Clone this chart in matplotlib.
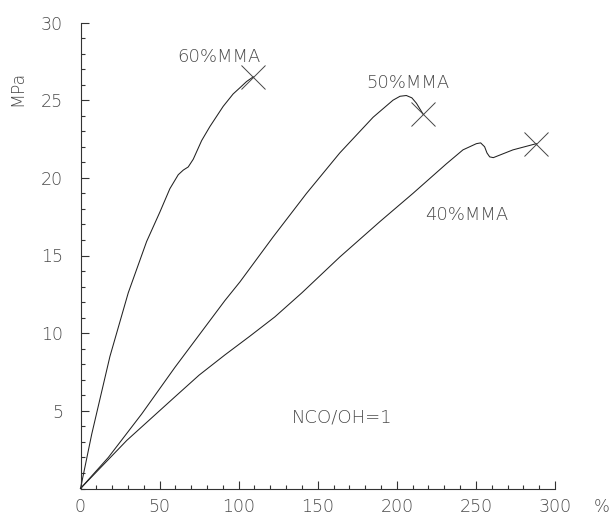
import matplotlib
matplotlib.use("Agg")
import matplotlib.pyplot as plt
from matplotlib.ticker import MultipleLocator

# strain (%) / stress (MPa)
mma60_x = [0, 7.1, 18.6, 30.2, 41.8, 50.2, 56.5, 61.8, 65, 68.1, 71.3, 76.6, 81.8, 90.2, 96.5, 100.8, 105, 109.2]
mma60_y = [0, 3.5, 8.5, 12.6, 15.9, 17.8, 19.3, 20.2, 20.5, 20.7, 21.2, 22.4, 23.3, 24.6, 25.4, 25.8, 26.2, 26.5]

mma50_x = [0, 17.6, 38.7, 59.7, 91.3, 100.8, 121.8, 142.9, 163.9, 185, 197.6, 202, 206, 209.5, 212.4, 216.6]
mma50_y = [0, 2.0, 4.8, 7.8, 12.1, 13.3, 16.2, 19.0, 21.6, 23.9, 25.0, 25.25, 25.3, 25.15, 24.8, 24.1]

mma40_x = [0, 29.3, 59.7, 75, 91.3, 107, 122.9, 140, 163.9, 189.5, 210.2, 231.3, 241.8, 250.3, 253,
           255.5, 257, 258.7, 261, 273.4, 288.2]
mma40_y = [0, 3.1, 5.9, 7.3, 8.6, 9.8, 11.05, 12.6, 14.9, 17.2, 19.0, 20.9, 21.8, 22.2, 22.25,
           22.0, 21.6, 21.35, 21.3, 21.8, 22.2]

series = [
    ("60%MMA", mma60_x, mma60_y, (87.8, 27.75)),
    ("50%MMA", mma50_x, mma50_y, (206.9, 26.1)),
    ("40%MMA", mma40_x, mma40_y, (244.0, 17.6)),
]

TXT = "#4a4a4a"
LINE = "#222222"

fig = plt.figure(figsize=(6.13, 5.18), dpi=100)
ax = fig.add_axes([80.5 / 613, 29.5 / 518, 474.5 / 613, 466 / 518])

for label, xs, ys, (lx, ly) in series:
    ax.plot(xs, ys, color=LINE, lw=0.75, clip_on=False)
    # break point marked with a cross
    ax.plot(xs[-1], ys[-1], marker="x", ms=17, mew=0.7, color="#444444", clip_on=False)
    ax.text(lx, ly, label, ha="center", va="center", fontsize=13, color=TXT,
            fontweight="light")

ax.text(197.5, 4.6, "NCO/OH=1", ha="right", va="center", fontsize=13, color=TXT,
        fontweight="light")

ax.set_xlim(0, 300)
ax.set_ylim(0, 30)
ax.spines["top"].set_visible(False)
ax.spines["right"].set_visible(False)
for s in ("left", "bottom"):
    ax.spines[s].set_linewidth(0.8)
    ax.spines[s].set_color("#333333")

ax.xaxis.set_major_locator(MultipleLocator(50))
ax.xaxis.set_minor_locator(MultipleLocator(10))
ax.yaxis.set_major_locator(MultipleLocator(5))
ax.yaxis.set_minor_locator(MultipleLocator(1))

ax.tick_params(axis="both", which="both", direction="in", color="#333333", width=0.8,
               labelcolor=TXT, labelsize=12.5)
ax.tick_params(axis="both", which="major", length=5.8)
ax.tick_params(axis="both", which="minor", length=3.0)
ax.tick_params(axis="x", which="major", pad=7)
ax.tick_params(axis="y", which="major", pad=12.5)

ax.set_yticks([5, 10, 15, 20, 25, 30])
ax.set_xticks([0, 50, 100, 150, 200, 250, 300])
for lab in ax.get_xticklabels() + ax.get_yticklabels():
    lab.set_fontweight("light")

fig.text(17 / 613, 1 - 88.5 / 518, "MPa", rotation=90, ha="center", va="center",
         fontsize=12.5, color=TXT, fontweight="light")
fig.text(602 / 613, 1 - 507 / 518, "%", ha="center", va="center", fontsize=12, color=TXT,
         fontweight="light")

fig.savefig("out.png", dpi=100)
